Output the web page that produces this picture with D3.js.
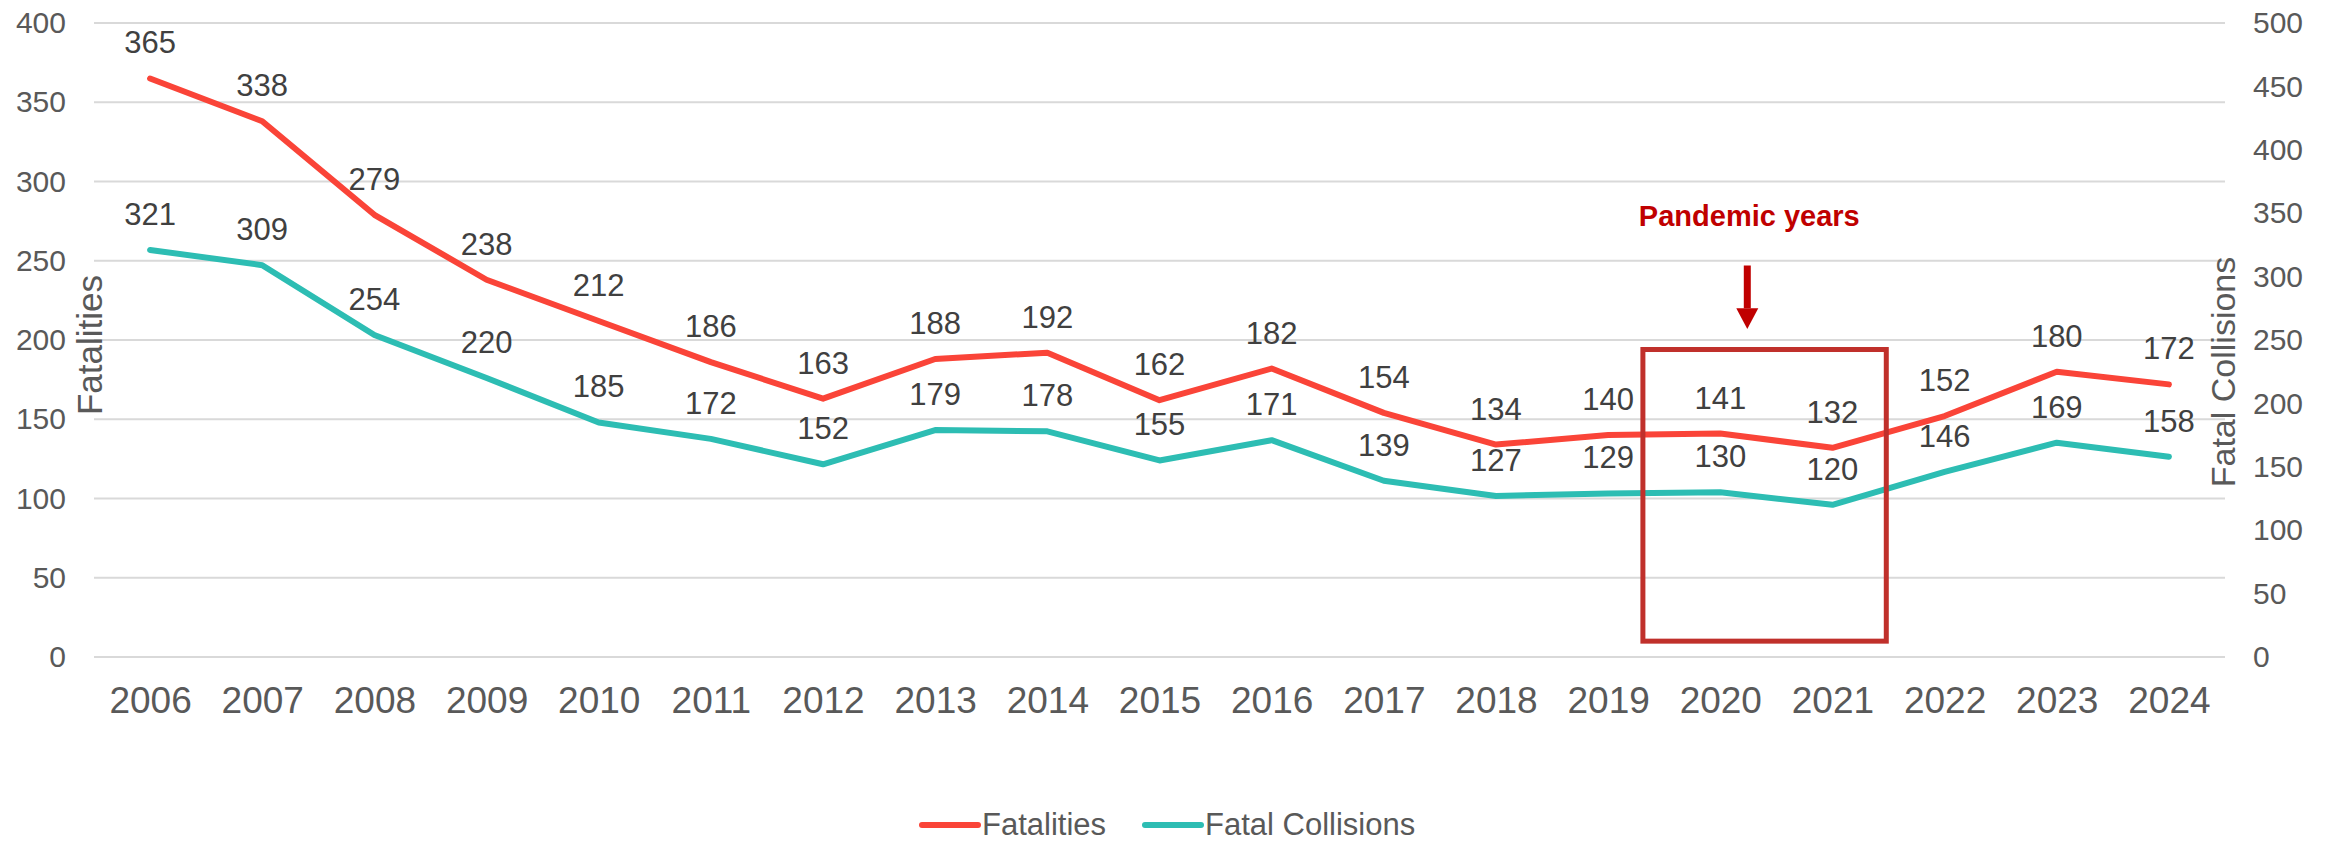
<!DOCTYPE html>
<html>
<head>
<meta charset="utf-8">
<script src="https://cdn.jsdelivr.net/npm/d3@7"></script>
<style>
  body { margin: 0; background: #fff; }
  text { font-family: Arial, "Liberation Sans", sans-serif; }
</style>
</head>
<body>
<div id="chart"></div>
<script>
// data
let years = ['2006','2007','2008','2009','2010','2011','2012','2013','2014','2015','2016','2017','2018','2019','2020','2021','2022','2023','2024'];
let fatalities = [365,338,279,238,212,186,163,188,192,162,182,154,134,140,141,132,152,180,172];
let collisions = [321,309,254,220,185,172,152,179,178,155,171,139,127,129,130,120,146,169,158];
let left_ticks = [0,50,100,150,200,250,300,350,400];
let right_ticks = [0,50,100,150,200,250,300,350,400,450,500];
let pandemic_years = ['2020','2021'];

let width = 2335;
let height = 841;
let m = {left: 94, right: 2225, top: 23, bottom: 657};

let red = '#FA4438';
let teal = '#2DBDB3';

let svg = d3.select('#chart')
    .append('svg')
    .attr('width', width)
    .attr('height', height);

// escalas
let x_scale = d3.scalePoint()
    .domain(years)
    .range([m.left, m.right])
    .padding(0.5);
let step = x_scale.step();

let y_left = d3.scaleLinear().domain([0, 400]).range([m.bottom, m.top]);
let y_right = d3.scaleLinear().domain([0, 500]).range([m.bottom, m.top]);

// grade
svg.append('g')
    .selectAll('line')
    .data(left_ticks)
    .enter()
    .append('line')
    .attr('x1', m.left)
    .attr('x2', m.right)
    .attr('y1', d => y_left(d))
    .attr('y2', d => y_left(d))
    .attr('stroke', '#D9D9D9')
    .attr('stroke-width', 2);

// eixos
let yl = svg.append('g')
    .attr('transform', 'translate(' + m.left + ',0)')
    .call(d3.axisLeft(y_left).tickValues(left_ticks).tickSize(0).tickPadding(28));
let yr = svg.append('g')
    .attr('transform', 'translate(' + m.right + ',0)')
    .call(d3.axisRight(y_right).tickValues(right_ticks).tickSize(0).tickPadding(28));
let xa = svg.append('g')
    .attr('transform', 'translate(0,' + m.bottom + ')')
    .call(d3.axisBottom(x_scale).tickSize(0).tickPadding(30));

[yl, yr].forEach(g => {
    g.select('.domain').remove();
    g.selectAll('text').attr('font-size', 30).attr('fill', '#595959').style('font-family', 'Arial, "Liberation Sans", sans-serif');
});
xa.select('.domain').remove();
xa.selectAll('text').attr('font-size', 37).attr('fill', '#595959').style('font-family', 'Arial, "Liberation Sans", sans-serif');

// títulos dos eixos
svg.append('text')
    .attr('transform', 'translate(102,345) rotate(-90)')
    .attr('text-anchor', 'middle')
    .attr('font-size', 35)
    .attr('fill', '#595959')
    .text('Fatalities');
svg.append('text')
    .attr('transform', 'translate(2235,372) rotate(-90)')
    .attr('text-anchor', 'middle')
    .attr('font-size', 34)
    .attr('fill', '#595959')
    .text('Fatal Collisions');

// linhas
let line_left = d3.line().x((d, i) => x_scale(years[i])).y(d => y_left(d));
let line_right = d3.line().x((d, i) => x_scale(years[i])).y(d => y_right(d));

svg.append('path')
    .datum(collisions)
    .attr('d', line_right)
    .attr('fill', 'none')
    .attr('stroke', teal)
    .attr('stroke-width', 6)
    .attr('stroke-linejoin', 'round')
    .attr('stroke-linecap', 'round');

svg.append('path')
    .datum(fatalities)
    .attr('d', line_left)
    .attr('fill', 'none')
    .attr('stroke', red)
    .attr('stroke-width', 6)
    .attr('stroke-linejoin', 'round')
    .attr('stroke-linecap', 'round');

// rótulos
svg.append('g').selectAll('text')
    .data(fatalities)
    .enter()
    .append('text')
    .attr('x', (d, i) => x_scale(years[i]))
    .attr('y', d => y_left(d) - 25)
    .attr('text-anchor', 'middle')
    .attr('font-size', 31)
    .attr('fill', '#404040')
    .text(d => d);

svg.append('g').selectAll('text')
    .data(collisions)
    .enter()
    .append('text')
    .attr('x', (d, i) => x_scale(years[i]))
    .attr('y', d => y_right(d) - 25)
    .attr('text-anchor', 'middle')
    .attr('font-size', 31)
    .attr('fill', '#404040')
    .text(d => d);

// anos de pandemia
let bx0 = x_scale(pandemic_years[0]) - step * 0.69;
let bx1 = x_scale(pandemic_years[1]) + step * 0.48;
svg.append('rect')
    .attr('x', bx0)
    .attr('y', y_left(194))
    .attr('width', bx1 - bx0)
    .attr('height', y_left(10) - y_left(194))
    .attr('fill', 'none')
    .attr('stroke', '#C0302B')
    .attr('stroke-width', 5);

let ax = x_scale(pandemic_years[0]) + 27;
svg.append('line')
    .attr('x1', ax).attr('x2', ax)
    .attr('y1', y_left(247)).attr('y2', y_left(220))
    .attr('stroke', '#C00000')
    .attr('stroke-width', 7);
svg.append('path')
    .attr('d', d3.line()([[ax - 11, y_left(220)], [ax + 11, y_left(220)], [ax, y_left(207)]]) + 'Z')
    .attr('fill', '#C00000');

svg.append('text')
    .attr('x', ax + 2)
    .attr('y', y_left(272))
    .attr('text-anchor', 'middle')
    .attr('font-size', 29)
    .attr('font-weight', 'bold')
    .attr('fill', '#C00000')
    .text('Pandemic years');

// legenda
let legend = [{name: 'Fatalities', color: red, lx: 922}, {name: 'Fatal Collisions', color: teal, lx: 1145}];
let lg = svg.append('g').selectAll('g')
    .data(legend)
    .enter()
    .append('g');
lg.append('line')
    .attr('x1', d => d.lx).attr('x2', d => d.lx + 56)
    .attr('y1', 825).attr('y2', 825)
    .attr('stroke', d => d.color)
    .attr('stroke-width', 6)
    .attr('stroke-linecap', 'round');
lg.append('text')
    .attr('x', d => d.lx + 60)
    .attr('y', 835)
    .attr('font-size', 31)
    .attr('fill', '#595959')
    .text(d => d.name);
</script>
</body>
</html>
